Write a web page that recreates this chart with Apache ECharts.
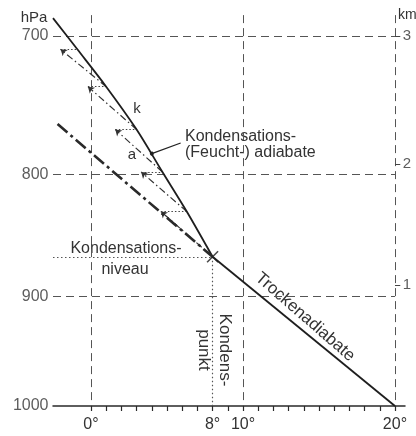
<!DOCTYPE html>
<html>
<head>
<meta charset="utf-8">
<script src="https://cdn.jsdelivr.net/npm/echarts@6/dist/echarts.min.js"></script>
<style>
html, body { margin: 0; padding: 0; background: #fff; }
#chart { width: 416px; height: 436px; }
</style>
</head>
<body>
<div id="chart"></div>
<script>
// Temperatur (°C) und Druck (hPa)
const moistT = [-2.5, -0.9, 1.0, 3.0, 4.7, 6.3, 8.0];
const moistP = [688, 709, 735, 766, 798, 829, 866];
const dryT = [8.0, 20.0];
const dryP = [866, 1000];
const dryUpperT = [-2.2, 8.0];
const dryUpperP = [762, 866];

// Treppe: trockenadiabatischer Aufstieg, dann Erwaermung durch Kondensation
const stepStartT = [8.0, 6.3, 4.7, 3.0, 1.0];
const stepStartP = [866, 829, 798, 766, 735];
const stepEndT = [4.6, 3.3, 1.6, -0.2, -2.0];
const stepEndP = [829, 798, 766, 735, 709];
const stepCurveT = [6.3, 4.7, 3.0, 1.0, -0.9];

const condT = 8.0;
const condP = 866;

const pressureTicks = [700, 800, 900, 1000];
const gridPressures = [700, 800, 900];
const gridTemps = [0, 10, 20];
const tempLabels = [0, 8, 10, 20];
const tempTicks = [0, 1, 2, 3, 4, 5, 6, 7, 8, 9, 10, 11, 12, 13, 14, 15, 16, 17, 18, 19, 20];
const kmLabels = ['3', '2', '1'];
const kmPressure = [700, 792, 890];

const zip = (a, b) => a.map((v, i) => [v, b[i]]);
const FONT = 'Liberation Sans, Arial, sans-serif';
const TXT = '#333';

const xMin = -2.5, xMax = 20.66, pTop = 680;

const gridSegs = gridPressures.map(p => ({ coords: [[xMin, p], [20, p]] }))
    .concat(gridTemps.map(t => ({ coords: [[t, 686], [t, 1000]] })));

const diagSegs = stepStartT.map((t, i) => ({
    coords: [[t, stepStartP[i]], [stepEndT[i], stepEndP[i]]]
}));
const horizSegs = stepEndT.map((t, i) => ({
    coords: [[t, stepEndP[i]], [stepCurveT[i], stepEndP[i]]]
}));

var myChart = echarts.init(document.getElementById('chart'));
myChart.setOption({
    animation: false,
    backgroundColor: '#fff',
    grid: { left: 53, right: 11, top: 6, bottom: 30, containLabel: false, outerBoundsMode: 'none' },
    xAxis: {
        type: 'value',
        min: xMin,
        max: xMax,
        axisLine: { lineStyle: { color: '#2a2a2a', width: 1.5 } },
        axisTick: { customValues: tempTicks, length: 5, lineStyle: { color: '#2a2a2a', width: 1.2 } },
        axisLabel: {
            customValues: tempLabels,
            formatter: v => v + '°',
            fontSize: 16, fontFamily: FONT, color: TXT, margin: 11
        },
        splitLine: { show: false }
    },
    yAxis: {
        type: 'log',
        min: pTop,
        max: 1000,
        inverse: true,
        axisLine: { show: false },
        axisTick: { show: false },
        axisLabel: { show: false },
        splitLine: { show: false }
    },
    graphic: [
        { type: 'text', x: 34, y: 18, style: { text: 'hPa', font: '15px ' + FONT, fill: TXT, align: 'center', verticalAlign: 'middle' } },
        { type: 'text', x: 398, y: 15, style: { text: 'km', font: '14px ' + FONT, fill: TXT, align: 'left', verticalAlign: 'middle' } },
        { type: 'text', x: 137, y: 109, style: { text: 'k', font: '15px ' + FONT, fill: TXT, align: 'center', verticalAlign: 'middle' } },
        { type: 'text', x: 132, y: 155, style: { text: 'a', font: '15px ' + FONT, fill: TXT, align: 'center', verticalAlign: 'middle' } },
        { type: 'text', x: 185, y: 137, style: { text: 'Kondensations-', font: '16px ' + FONT, fill: TXT, align: 'left', verticalAlign: 'middle' } },
        { type: 'text', x: 185, y: 153, style: { text: '(Feucht-) adiabate', font: '16px ' + FONT, fill: TXT, align: 'left', verticalAlign: 'middle' } },
        { type: 'text', x: 126, y: 249, style: { text: 'Kondensations-', font: '16px ' + FONT, fill: TXT, align: 'center', verticalAlign: 'middle' } },
        { type: 'text', x: 125, y: 270, style: { text: 'niveau', font: '16px ' + FONT, fill: TXT, align: 'center', verticalAlign: 'middle' } },
        { type: 'text', x: 214, y: 350, rotation: -Math.PI / 2,
          style: { text: 'Kondens-\npunkt', font: '17px ' + FONT, fill: TXT, align: 'center', verticalAlign: 'middle', lineHeight: 21 } },
        { type: 'text', x: 305, y: 317, rotation: -41 * Math.PI / 180,
          style: { text: 'Trockenadiabate', font: '17px ' + FONT, fill: TXT, align: 'center', verticalAlign: 'middle' } }
    ],
    series: [
        {
            type: 'lines', coordinateSystem: 'cartesian2d', silent: true,
            lineStyle: { color: '#555', width: 1, type: [8, 5], opacity: 1 },
            data: gridSegs
        },
        {
            type: 'lines', coordinateSystem: 'cartesian2d', silent: true,
            lineStyle: { color: '#555', width: 1.2, type: [1.5, 2.5], opacity: 1 },
            data: [
                { coords: [[xMin, condP], [condT, condP]] },
                { coords: [[condT, condP], [condT, 1000]] }
            ]
        },
        {
            type: 'line', showSymbol: false, smooth: 0.3,
            lineStyle: { color: '#1e1e1e', width: 1.8 },
            data: zip(moistT, moistP)
        },
        {
            type: 'line', showSymbol: false,
            lineStyle: { color: '#1e1e1e', width: 1.8 },
            data: zip(dryT, dryP)
        },
        {
            type: 'line', showSymbol: false,
            lineStyle: { color: '#2a2a2a', width: 2.6, type: [13, 4, 3, 4] },
            data: zip(dryUpperT, dryUpperP)
        },
        {
            type: 'lines', coordinateSystem: 'cartesian2d', silent: true,
            symbol: ['none', 'arrow'], symbolSize: 6,
            lineStyle: { color: '#333', width: 1.2, type: [7, 3, 1.5, 3], opacity: 1 },
            data: diagSegs
        },
        {
            type: 'lines', coordinateSystem: 'cartesian2d', silent: true,
            lineStyle: { color: '#444', width: 1.1, type: [1.5, 2], opacity: 1 },
            data: horizSegs
        },
        {
            // Hinweislinie zur Beschriftung der Feuchtadiabate
            type: 'lines', coordinateSystem: 'cartesian2d', silent: true,
            symbol: ['circle', 'none'], symbolSize: [4, 0],
            lineStyle: { color: '#222', width: 1.2, opacity: 1 },
            data: [{ coords: [[4.0, 784], [5.9, 776]] }]
        },
        {
            type: 'lines', coordinateSystem: 'cartesian2d', silent: true,
            lineStyle: { color: '#444', width: 1, opacity: 1 },
            data: kmPressure.map(p => ({ coords: [[20, p], [20.35, p]] }))
        },
        {
            type: 'scatter', silent: true,
            symbol: 'path://M0,0L10,10M10,0L0,10', symbolSize: 11,
            itemStyle: { color: 'none', borderColor: '#1e1e1e', borderWidth: 1.6 },
            data: [[condT, condP]]
        },
        {
            type: 'scatter', silent: true, symbolSize: 1,
            itemStyle: { color: 'rgba(0,0,0,0)' },
            label: {
                show: true, position: 'left', distance: 4,
                fontSize: 16, fontFamily: FONT, color: TXT,
                formatter: p => p.value[1]
            },
            data: pressureTicks.map(p => [xMin, p])
        },
        {
            type: 'scatter', silent: true, symbolSize: 1,
            itemStyle: { color: 'rgba(0,0,0,0)' },
            label: {
                show: true, position: 'right', distance: 2,
                fontSize: 15, fontFamily: FONT, color: TXT,
                formatter: p => kmLabels[p.dataIndex]
            },
            data: kmPressure.map(p => [20.35, p])
        }
    ]
});
</script>
</body>
</html>
